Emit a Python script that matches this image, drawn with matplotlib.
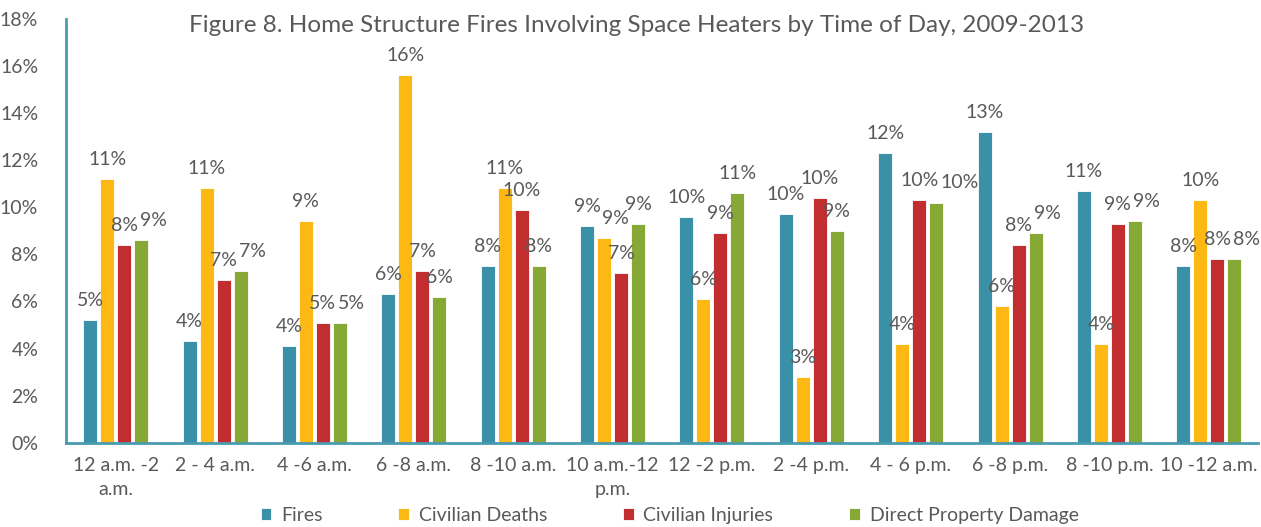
import matplotlib.pyplot as plt
import numpy as np

plt.rcParams['font.family'] = ['Lato', 'DejaVu Sans']

# ---------data-------------------
categories = ["12 a.m. -2\na.m.", "2 - 4 a.m.", "4 -6 a.m.", "6 -8 a.m.", "8 -10 a.m.",
              "10 a.m.-12\np.m.", "12 -2 p.m.", "2 -4 p.m.", "4 - 6 p.m.", "6 -8 p.m.",
              "8 -10 p.m.", "10 -12 a.m."]
fires = [5.2, 4.3, 4.1, 6.3, 7.5, 9.2, 9.6, 9.7, 12.3, 13.2, 10.7, 7.5]
civilian_deaths = [11.2, 10.8, 9.4, 15.6, 10.8, 8.7, 6.1, 2.8, 4.2, 5.8, 4.2, 10.3]
civilian_injuries = [8.4, 6.9, 5.1, 7.3, 9.9, 7.2, 8.9, 10.4, 10.3, 8.4, 9.3, 7.8]
property_damage = [8.6, 7.3, 5.1, 6.2, 7.5, 9.3, 10.6, 9.0, 10.2, 8.9, 9.4, 7.8]
series_names = ["Fires", "Civilian Deaths", "Civilian Injuries", "Direct Property Damage"]
colors = ["#3A90A6", "#FDB813", "#C22D30", "#86A935"]
# ---------------------------------

text_color = "#595959"
axis_color = "#4A9BB0"
DPI = 100

fig = plt.figure(figsize=(12.61, 5.27), dpi=DPI)
ax = fig.add_axes([0.0523, 0.16, 0.9457, 0.804])

x = np.arange(len(categories))
slot = 0.171
width = 0.141
all_series = [fires, civilian_deaths, civilian_injuries, property_damage]

labels = [[] for _ in categories]
for i, (vals, name, c) in enumerate(zip(all_series, series_names, colors)):
    pos = x + (i - 1.5) * slot
    ax.bar(pos, vals, width=width, color=c, edgecolor="white", linewidth=0.6, label=name)
    for k, (xp, v) in enumerate(zip(pos, vals)):
        a = ax.annotate(f"{round(v):.0f}%", (xp, v), xytext=(0, 8), textcoords="offset points",
                        ha="center", va="bottom", fontsize=14, color=text_color)
        labels[k].append(a)

ax.set_xlim(-0.5, len(categories) - 0.5)
ax.set_ylim(0, 18)
ax.set_yticks(np.arange(0, 19, 2))
ax.set_yticklabels([f"{t}%" for t in range(0, 19, 2)], fontsize=14, color=text_color)
ax.set_xticks(x)
ax.set_xticklabels(categories, fontsize=14, color=text_color, linespacing=1.55)
ax.tick_params(axis="both", length=0)
ax.tick_params(axis="y", pad=20)
ax.tick_params(axis="x", pad=10)

for s in ["top", "right"]:
    ax.spines[s].set_visible(False)
for s in ["left", "bottom"]:
    ax.spines[s].set_color(axis_color)
    ax.spines[s].set_linewidth(2)

fig.text(0.505, 0.952, "Figure 8. Home Structure Fires Involving Space Heaters by Time of Day, 2009-2013",
         ha="center", va="center", fontsize=17.5, color=text_color)

fig.legend(loc="center", bbox_to_anchor=(0.531, 0.022), ncol=4, frameon=False,
           fontsize=14, handlelength=0.55, handleheight=0.55, handletextpad=0.5,
           columnspacing=3.9, labelcolor=text_color)

# nudge labels within a group to the right so they don't collide
fig.canvas.draw()
r = fig.canvas.get_renderer()
for grp in labels:
    prev = None
    for a in grp:
        bb = a.get_window_extent(r)
        if prev is not None and bb.x0 < prev.x1 + 2 and bb.y0 < prev.y1 and bb.y1 > prev.y0:
            shift_px = prev.x1 + 2 - bb.x0
            a.xyann = (a.xyann[0] + shift_px * 72 / DPI, a.xyann[1])
            fig.canvas.draw()
            bb = a.get_window_extent(r)
        prev = bb

fig.savefig("out.png", dpi=DPI)
